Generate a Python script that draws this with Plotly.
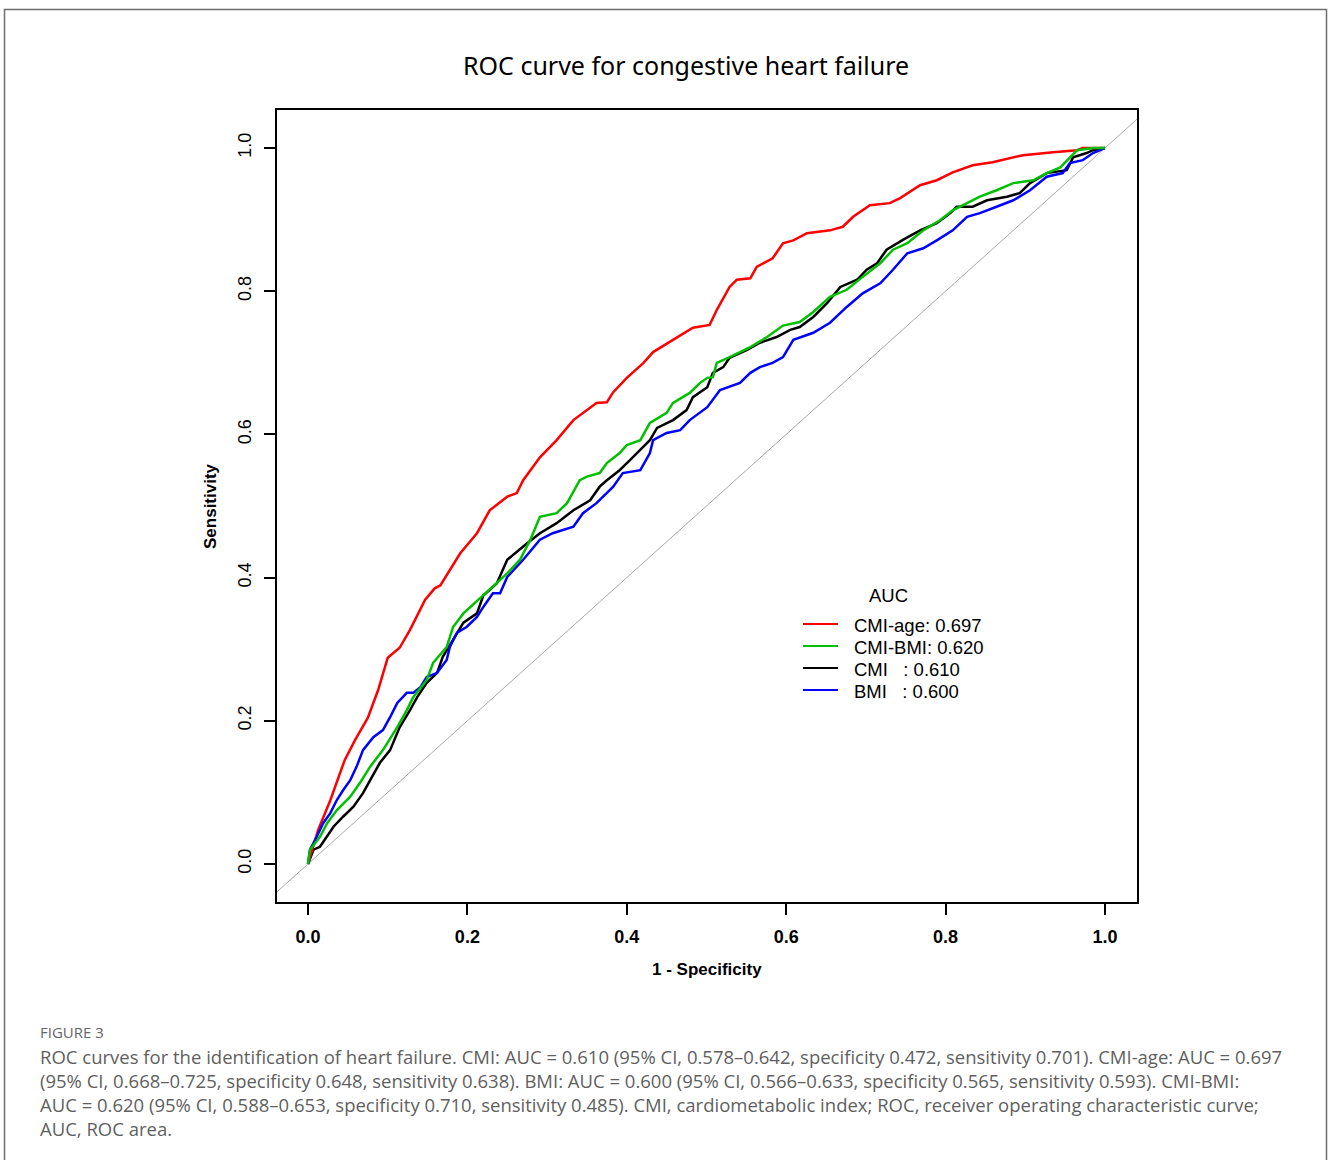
import plotly.graph_objects as go

W, H = 1328, 1160

# ---- data ----
cmi_age_x = [0.0, 0.0125, 0.028, 0.046, 0.059, 0.075, 0.088, 0.100, 0.115, 0.128, 0.147, 0.159, 0.166,
             0.191, 0.212, 0.228, 0.250, 0.262, 0.270, 0.291, 0.312, 0.333, 0.362, 0.375, 0.383, 0.400,
             0.421, 0.433, 0.458, 0.483, 0.504, 0.513, 0.529, 0.538, 0.555, 0.563, 0.583, 0.596, 0.609,
             0.626, 0.655, 0.671, 0.684, 0.705, 0.730, 0.743, 0.768, 0.789, 0.809, 0.834, 0.859, 0.897,
             0.935, 0.965, 0.972, 1.0]
cmi_age_y = [0.0, 0.047, 0.089, 0.145, 0.173, 0.204, 0.243, 0.288, 0.302, 0.327, 0.369, 0.385, 0.389,
             0.434, 0.462, 0.494, 0.513, 0.518, 0.536, 0.568, 0.592, 0.620, 0.644, 0.645, 0.659, 0.679,
             0.700, 0.715, 0.732, 0.749, 0.753, 0.774, 0.806, 0.816, 0.818, 0.834, 0.846, 0.867, 0.871,
             0.881, 0.885, 0.890, 0.904, 0.920, 0.923, 0.930, 0.948, 0.955, 0.966, 0.976, 0.980, 0.990,
             0.994, 0.997, 1.0, 1.0]

cmi_bmi_x = [0.0, 0.0025, 0.015, 0.024, 0.036, 0.053, 0.065, 0.078, 0.094, 0.112, 0.124, 0.132, 0.149,
             0.157, 0.174, 0.182, 0.195, 0.207, 0.228, 0.250, 0.266, 0.279, 0.291, 0.312, 0.325, 0.341,
             0.350, 0.366, 0.375, 0.391, 0.400, 0.417, 0.429, 0.450, 0.458, 0.479, 0.492, 0.501, 0.508,
             0.513, 0.529, 0.555, 0.576, 0.596, 0.617, 0.634, 0.655, 0.676, 0.696, 0.718, 0.734, 0.752,
             0.772, 0.793, 0.809, 0.827, 0.843, 0.864, 0.885, 0.910, 0.927, 0.944, 0.956, 0.965, 0.985, 1.0]
cmi_bmi_y = [0.0, 0.020, 0.038, 0.057, 0.075, 0.094, 0.113, 0.136, 0.159, 0.191, 0.215, 0.233, 0.257,
             0.281, 0.303, 0.331, 0.350, 0.362, 0.383, 0.406, 0.425, 0.453, 0.485, 0.490, 0.504, 0.536,
             0.541, 0.546, 0.560, 0.574, 0.585, 0.592, 0.616, 0.630, 0.644, 0.658, 0.672, 0.679, 0.680,
             0.700, 0.708, 0.722, 0.736, 0.752, 0.757, 0.771, 0.792, 0.802, 0.820, 0.839, 0.858, 0.867,
             0.885, 0.899, 0.913, 0.923, 0.932, 0.941, 0.951, 0.955, 0.965, 0.973, 0.987, 0.997, 1.0, 1.0]

cmi_x = [0.0, 0.007, 0.015, 0.024, 0.032, 0.044, 0.057, 0.069, 0.078, 0.090, 0.103, 0.115, 0.128, 0.137,
         0.149, 0.162, 0.169, 0.182, 0.195, 0.212, 0.220, 0.237, 0.250, 0.275, 0.291, 0.312, 0.333, 0.354,
         0.366, 0.375, 0.391, 0.404, 0.417, 0.429, 0.438, 0.458, 0.475, 0.483, 0.501, 0.508, 0.521, 0.529,
         0.551, 0.567, 0.588, 0.605, 0.617, 0.634, 0.651, 0.668, 0.689, 0.701, 0.714, 0.726, 0.747, 0.768,
         0.789, 0.806, 0.814, 0.834, 0.852, 0.877, 0.893, 0.906, 0.927, 0.952, 0.960, 0.977, 0.985, 1.0]
cmi_y = [0.0, 0.020, 0.024, 0.038, 0.052, 0.066, 0.080, 0.099, 0.117, 0.141, 0.159, 0.191, 0.215, 0.233,
         0.253, 0.267, 0.289, 0.313, 0.337, 0.350, 0.375, 0.392, 0.425, 0.448, 0.462, 0.476, 0.494, 0.508,
         0.527, 0.536, 0.550, 0.564, 0.578, 0.592, 0.609, 0.620, 0.634, 0.652, 0.666, 0.686, 0.694, 0.707,
         0.718, 0.728, 0.736, 0.746, 0.750, 0.764, 0.783, 0.806, 0.816, 0.830, 0.839, 0.858, 0.872, 0.885,
         0.895, 0.909, 0.918, 0.918, 0.927, 0.932, 0.937, 0.951, 0.965, 0.969, 0.987, 0.993, 0.997, 1.0]

bmi_x = [0.0, 0.0025, 0.011, 0.019, 0.028, 0.036, 0.044, 0.053, 0.061, 0.069, 0.082, 0.094, 0.103, 0.112,
         0.124, 0.132, 0.141, 0.149, 0.162, 0.174, 0.178, 0.187, 0.199, 0.212, 0.220, 0.232, 0.241, 0.250,
         0.270, 0.291, 0.307, 0.333, 0.345, 0.362, 0.383, 0.395, 0.417, 0.429, 0.433, 0.450, 0.467, 0.479,
         0.501, 0.517, 0.542, 0.555, 0.567, 0.583, 0.596, 0.609, 0.634, 0.655, 0.676, 0.696, 0.718, 0.734,
         0.752, 0.772, 0.789, 0.809, 0.827, 0.843, 0.864, 0.885, 0.906, 0.927, 0.947, 0.956, 0.972, 0.985, 1.0]
bmi_y = [0.0, 0.020, 0.038, 0.057, 0.071, 0.089, 0.103, 0.117, 0.136, 0.159, 0.177, 0.187, 0.205, 0.225,
         0.239, 0.239, 0.247, 0.261, 0.267, 0.285, 0.303, 0.323, 0.331, 0.345, 0.359, 0.378, 0.378, 0.401,
         0.425, 0.453, 0.462, 0.471, 0.490, 0.504, 0.527, 0.546, 0.550, 0.574, 0.592, 0.602, 0.606, 0.620,
         0.638, 0.662, 0.672, 0.686, 0.694, 0.700, 0.708, 0.732, 0.742, 0.756, 0.778, 0.797, 0.811, 0.830,
         0.853, 0.860, 0.871, 0.885, 0.904, 0.909, 0.918, 0.927, 0.941, 0.960, 0.965, 0.979, 0.983, 0.993, 1.0]

legend_title = "AUC"
legend_labels = ["CMI-age: 0.697", "CMI-BMI: 0.620", "CMI\u00a0\u00a0\u00a0: 0.610", "BMI\u00a0\u00a0\u00a0: 0.600"]
legend_colors = ["#ff0000", "#00c000", "#000000", "#0000ff"]
x_ticks = [0.0, 0.2, 0.4, 0.6, 0.8, 1.0]
y_ticks = [0.0, 0.2, 0.4, 0.6, 0.8, 1.0]

title_text = "ROC curve for congestive heart failure"
caption_head = "FIGURE 3"
caption_lines = [
    "ROC curves for the identification of heart failure. CMI: AUC = 0.610 (95% CI, 0.578\u20130.642, specificity 0.472, sensitivity 0.701). CMI-age: AUC = 0.697",
    "(95% CI, 0.668\u20130.725, specificity 0.648, sensitivity 0.638). BMI: AUC = 0.600 (95% CI, 0.566\u20130.633, specificity 0.565, sensitivity 0.593). CMI-BMI:",
    "AUC = 0.620 (95% CI, 0.588\u20130.653, specificity 0.710, sensitivity 0.485). CMI, cardiometabolic index; ROC, receiver operating characteristic curve;",
    "AUC, ROC area.",
]

# ---- figure ----
PL, PR, PT, PB = 277, 1137, 110, 902  # plot box in pixels
fx = lambda px: px / W
fy = lambda py: 1 - py / H

fig = go.Figure()

fig.add_trace(go.Scatter(x=[-0.2, 1.2], y=[-0.2, 1.2], mode="lines",
                         line=dict(color="#a8a8a8", width=1), showlegend=False, hoverinfo="skip"))

series = [
    (cmi_x, cmi_y, legend_labels[2], legend_colors[2]),
    (cmi_age_x, cmi_age_y, legend_labels[0], legend_colors[0]),
    (bmi_x, bmi_y, legend_labels[3], legend_colors[3]),
    (cmi_bmi_x, cmi_bmi_y, legend_labels[1], legend_colors[1]),
]
for xs, ys, name, col in series:
    fig.add_trace(go.Scatter(x=xs, y=ys, mode="lines", name=name, showlegend=False,
                             line=dict(color=col, width=2.5)))

axis_common = dict(showline=True, linecolor="#000000", linewidth=2, mirror=True,
                   showgrid=False, zeroline=False, ticks="outside", ticklen=11,
                   tickwidth=1.5, tickcolor="#000000")

fig.update_layout(
    width=W, height=H,
    margin=dict(l=0, r=0, t=0, b=0),
    paper_bgcolor="white", plot_bgcolor="white",
    font=dict(family="Liberation Sans, Arial", color="#000000"),
    xaxis=dict(domain=[fx(PL), fx(PR)], range=[-0.0389, 1.0402],
               tickvals=x_ticks, ticktext=[f"<b>{v:.1f}</b>" for v in x_ticks],
               tickfont=dict(size=18, family="Liberation Sans, Arial"),
               ticklabelstandoff=6, **axis_common),
    yaxis=dict(domain=[fy(PB), fy(PT)], range=[-0.0531, 1.0531],
               tickvals=y_ticks, ticktext=[f"{v:.1f}" for v in y_ticks],
               tickangle=-90, tickfont=dict(size=18, family="Liberation Sans, Arial"),
               ticklabelstandoff=6, **axis_common),
    showlegend=False,
)

# legend (drawn manually to match R's legend layout)
fig.add_annotation(text=legend_title, xref="paper", yref="paper", x=fx(888), y=fy(595),
                   xanchor="center", yanchor="middle", showarrow=False,
                   font=dict(size=18.5, family="Liberation Sans, Arial"))
for i, (lab, col) in enumerate(zip(legend_labels, legend_colors)):
    yy = 624 + 22 * i
    fig.add_shape(type="line", xref="paper", yref="paper", x0=fx(803), x1=fx(838),
                  y0=fy(yy), y1=fy(yy), line=dict(color=col, width=2))
    fig.add_annotation(text=lab, xref="paper", yref="paper", x=fx(852), y=fy(yy + 1),
                       xanchor="left", yanchor="middle", showarrow=False,
                       font=dict(size=18.5, family="Liberation Sans, Arial"))

# outer frame
fig.add_shape(type="rect", xref="paper", yref="paper",
              x0=fx(4.5), x1=fx(1326.5), y0=-0.02, y1=fy(9.5),
              line=dict(color="#6e6e6e", width=1.5), fillcolor="rgba(0,0,0,0)", layer="below")

# title
fig.add_annotation(text=title_text, xref="paper", yref="paper", x=fx(686), y=fy(65),
                   xanchor="center", yanchor="middle", showarrow=False,
                   font=dict(size=25, family="Noto Sans, DejaVu Sans", color="#000000"))

# axis titles
fig.add_annotation(text="<b>1 - Specificity</b>", xref="paper", yref="paper", x=fx(707), y=fy(970),
                   xanchor="center", yanchor="middle", showarrow=False,
                   font=dict(size=17, family="Liberation Sans, Arial"))
fig.add_annotation(text="<b>Sensitivity</b>", xref="paper", yref="paper", x=fx(211), y=fy(506),
                   xanchor="center", yanchor="middle", showarrow=False, textangle=-90,
                   font=dict(size=17, family="Liberation Sans, Arial"))

# caption
fig.add_annotation(text=caption_head, xref="paper", yref="paper", x=fx(38), y=fy(1032),
                   xanchor="left", yanchor="middle", showarrow=False,
                   font=dict(size=15, family="Open Sans, Lato", color="#666666"))
for i, line in enumerate(caption_lines):
    fig.add_annotation(text=line, xref="paper", yref="paper", x=fx(38), y=fy(1056 + 24 * i),
                       xanchor="left", yanchor="middle", showarrow=False,
                       font=dict(size=18.5, family="Open Sans, Lato", color="#5f5f5f"))

fig.write_html("out.html", config={"displayModeBar": False},
               post_script="document.body.style.margin='0px';")
